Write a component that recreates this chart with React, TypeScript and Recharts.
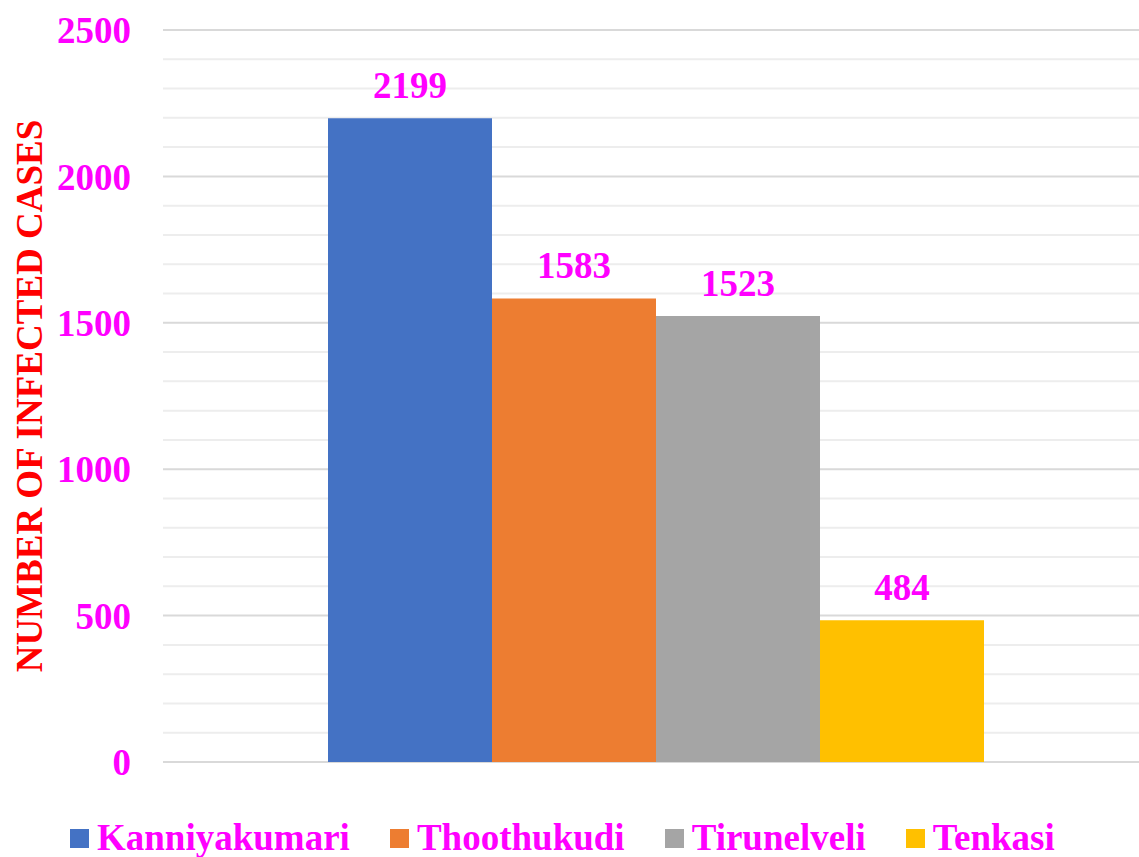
import React from 'react';
import { BarChart, Bar, XAxis, YAxis, CartesianGrid, Legend, LabelList, Label } from 'recharts';

const districts = ['Kanniyakumari', 'Thoothukudi', 'Tirunelveli', 'Tenkasi'];
const cases = [2199, 1583, 1523, 484];
const colors = ['#4472C4', '#ED7D31', '#A5A5A5', '#FFC000'];
const majorTicks = [0, 500, 1000, 1500, 2000, 2500];
const minorTicks = [100, 200, 300, 400, 600, 700, 800, 900, 1100, 1200, 1300, 1400, 1600, 1700, 1800, 1900, 2100, 2200, 2300, 2400];
const yTitle = 'NUMBER OF INFECTED CASES';

const row: Record<string, any> = { name: '' };
districts.forEach((d, i) => { row[d] = cases[i]; });
const data = [row];

const FONT = '"Liberation Serif", "Times New Roman", serif';
const MAGENTA = '#FF00FF';

const renderYTitle = (props: any) => {
  const vb = props.viewBox || { x: 0, y: 30, width: 163, height: 732 };
  const cx = vb.x + 29;
  const cy = vb.y + vb.height / 2;
  return (
    <text
      x={cx}
      y={cy}
      transform={`rotate(-90 ${cx} ${cy})`}
      textAnchor="middle"
      dominantBaseline="central"
      fill="#FF0000"
      fontFamily={FONT}
      fontWeight="bold"
      fontSize={37}
    >
      {yTitle}
    </text>
  );
};

const renderLegend = () => (
  <div style={{ display: 'flex', alignItems: 'center', fontFamily: FONT, fontWeight: 'bold', fontSize: 37, color: MAGENTA, paddingLeft: 70 }}>
    {districts.map((d, i) => (
      <div key={d} style={{ display: 'flex', alignItems: 'center', marginRight: 40 }}>
        <span style={{ display: 'inline-block', width: 19, height: 19, background: colors[i], marginRight: 8 }} />
        <span style={{ lineHeight: '40px' }}>{d}</span>
      </div>
    ))}
  </div>
);

const minorGen = (args: any) => {
  const s = args?.yAxis?.scale;
  if (typeof s === 'function') return minorTicks.map((v) => s(v));
  if (s && typeof s.map === 'function') return minorTicks.map((v) => s.map(v));
  return [];
};

export default function App() {
  return (
    <div style={{ position: 'absolute', left: 0, top: 0, width: 1139, height: 857, background: '#fff' }}>
      <BarChart
        width={1139}
        height={857}
        data={data}
        margin={{ top: 30, right: 0, bottom: 95, left: 0 }}
        barGap={0}
        barSize={164}
      >
        <CartesianGrid vertical={false} stroke="#EDEDED" strokeWidth={2} horizontalCoordinatesGenerator={minorGen} syncWithTicks={false} />
        <CartesianGrid vertical={false} stroke="#D9D9D9" strokeWidth={2} />
        <XAxis dataKey="name" hide padding={{ left: 9, right: 0 }} />
        <YAxis
          width={163}
          domain={[0, 2500]}
          ticks={majorTicks}
          axisLine={false}
          tickLine={false}
          tickSize={0}
          tickMargin={32}
          tick={{ fill: MAGENTA, fontFamily: FONT, fontWeight: 'bold', fontSize: 37 }}
        >
          <Label content={renderYTitle} />
        </YAxis>
        <Legend
          layout="horizontal"
          verticalAlign="middle"
          align="center"
          content={renderLegend}
          wrapperStyle={{ top: 818, left: 0, width: 1139 }}
        />
        {districts.map((d, i) => (
          <Bar key={d} dataKey={d} fill={colors[i]} isAnimationActive={false}>
            <LabelList
              dataKey={d}
              position="top"
              offset={20}
              fill={MAGENTA}
              fontFamily={FONT}
              fontWeight="bold"
              fontSize={37}
            />
          </Bar>
        ))}
      </BarChart>
    </div>
  );
}
